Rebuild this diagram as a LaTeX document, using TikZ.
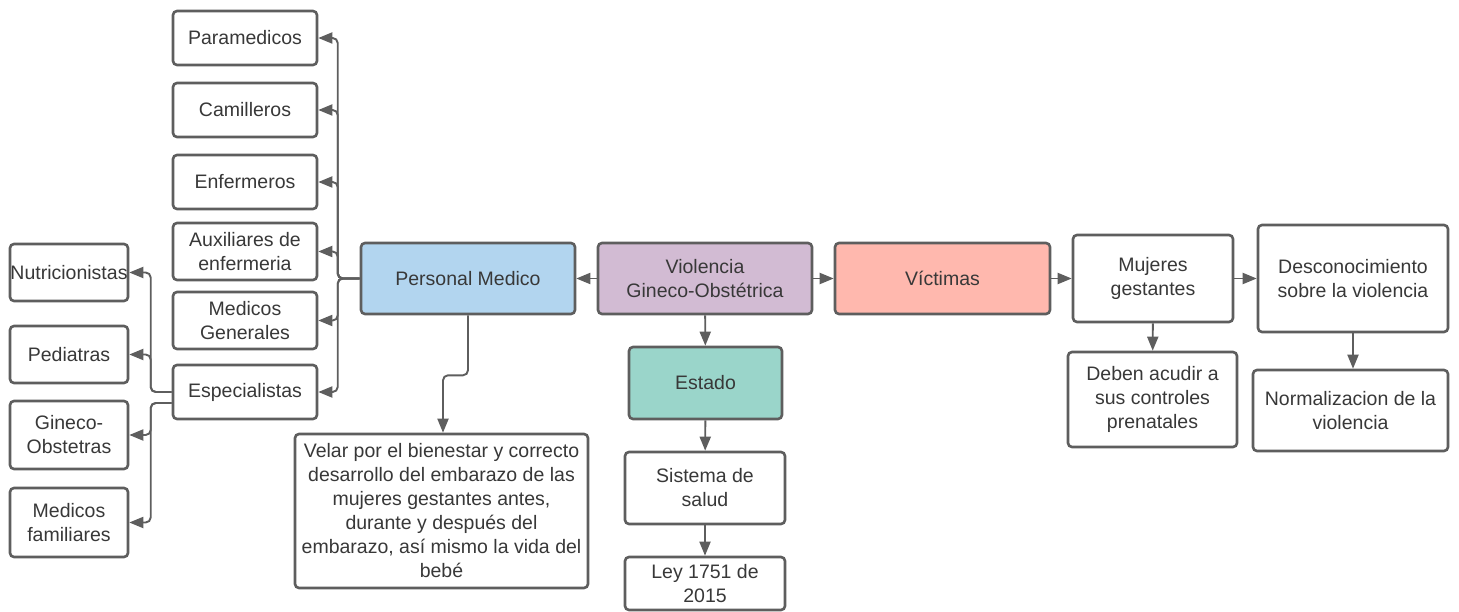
\documentclass[tikz,border=0pt]{standalone}
\usepackage{fontspec}
\setmainfont{Liberation Sans}
\usepackage{tikz}
\usetikzlibrary{arrows.meta}
\definecolor{VGblue}{HTML}{B2D5EF}
\definecolor{VGpurple}{HTML}{D2BBD3}
\definecolor{VGsalmon}{HTML}{FFB8AE}
\definecolor{VGteal}{HTML}{9AD5CA}
\definecolor{VGline}{HTML}{5E5E5E}
\definecolor{VGtext}{HTML}{383838}

\begin{document}
\begin{tikzpicture}[x=1pt,y=-1pt,
    box/.style={draw=VGline,line width=2.6pt,rounded corners=4pt,fill=white,
      inner sep=0pt,align=center,text=VGtext,font=\fontsize{19.5}{24}\selectfont},
    wh/.style 2 args={minimum width=#1pt,minimum height=#2pt},
    arr/.style={draw=VGline,line width=1.9pt,rounded corners=5pt,
      -{Triangle[length=14pt,width=11pt]}}]
  \useasboundingbox (0,0) rectangle (1459,612);

  % centro
  \node[box,wh={214}{71},fill=VGpurple] (viol) at (705,278.5) {Violencia\\Gineco-Obstétrica};
  \node[box,wh={214}{71},fill=VGblue] (pmed) at (468,278.5) {Personal Medico};
  \node[box,wh={215}{71},fill=VGsalmon] (vict) at (942.5,278.5) {Víctimas};
  \node[box,wh={153}{72},fill=VGteal] (esta) at (705.5,383) {Estado};
  \node[box,wh={160}{72}] (sist) at (705,488) {Sistema de\\salud};
  \node[box,wh={160}{53}] (ley) at (705,583.5) {Ley 1751 de\\2015};
  \node[box,wh={293}{154}] (velar) at (441.5,511) {Velar por el bienestar y correcto\\desarrollo del embarazo de las\\mujeres gestantes antes,\\durante y después del\\embarazo, así mismo la vida del\\bebé};

  % personal medico
  \node[box,wh={144}{54}] (para) at (245,38) {Paramedicos};
  \node[box,wh={144}{54}] (cami) at (245,110) {Camilleros};
  \node[box,wh={144}{54}] (enfe) at (245,182) {Enfermeros};
  \node[box,wh={144}{57}] (auxi) at (245,251.5) {Auxiliares de\\enfermeria};
  \node[box,wh={144}{57}] (mgen) at (245,320.5) {Medicos\\Generales};
  \node[box,wh={144}{54}] (espe) at (245,392) {Especialistas};

  % especialistas
  \node[box,wh={118}{57}] (nutri) at (69,272.5) {Nutricionistas};
  \node[box,wh={118}{57}] (pedi) at (69,354.5) {Pediatras};
  \node[box,wh={118}{68}] (gine) at (69,435) {Gineco-\\Obstetras};
  \node[box,wh={118}{69}] (mfam) at (69,522.5) {Medicos\\familiares};

  % victimas
  \node[box,wh={160}{87}] (muje) at (1153,278.5) {Mujeres\\gestantes};
  \node[box,wh={169}{95}] (debe) at (1152.5,399.5) {Deben acudir a\\sus controles\\prenatales};
  \node[box,wh={190}{107}] (desc) at (1353,278.5) {Desconocimiento\\sobre la violencia};
  \node[box,wh={195}{81}] (norm) at (1350.5,410.5) {Normalizacion de la\\violencia};

  \draw[arr] (viol) -- (pmed);
  \draw[arr] (viol) -- (vict);
  \draw[arr] (viol) -- (esta);
  \draw[arr] (esta) -- (sist);
  \draw[arr] (sist) -- (ley);
  \draw[arr] (vict) -- (muje);
  \draw[arr] (muje) -- (desc);
  \draw[arr] (muje) -- (debe);
  \draw[arr] (desc.south) -- (desc.south |- norm.north);
  \draw[arr] (pmed.south) -- ++(0,60) -| ([xshift=1.5pt]velar.north);

  \foreach \n in {para,cami,enfe,auxi,mgen,espe}
    \draw[arr] (pmed.west) -- ++(-22,0) |- (\n.east);
  \foreach \n in {nutri,pedi}
    \draw[arr] (espe.west) -- ++(-21,0) |- (\n.east);
  \foreach \n in {gine,mfam}
    \draw[arr] ([yshift=-11pt]espe.west) -- ++(-21,0) |- (\n.east);
\end{tikzpicture}
\end{document}
